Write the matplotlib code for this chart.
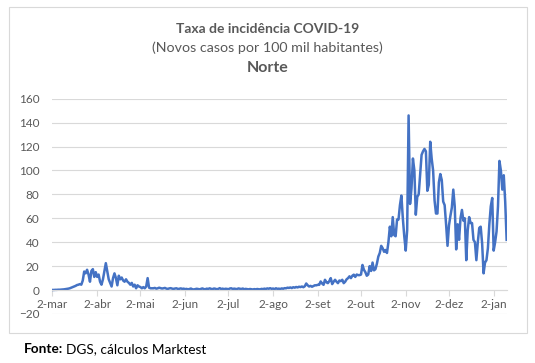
import matplotlib
matplotlib.use("Agg")
import matplotlib.pyplot as plt
from matplotlib.patches import Rectangle
import numpy as np
import pandas as pd

# Daily incidence (new cases per 100k inhabitants), Norte region
mar = [0.1, 0.1, 0.2, 0.2, 0.3, 0.3, 0.4, 0.5, 0.6, 0.8, 1.0, 1.2, 1.5, 2.0, 2.5,
       3.0, 3.5, 4.2, 4.5, 5.0, 4.5, 8, 15.5, 14, 17, 13, 7, 16, 17.5, 11]
abr = [15, 11, 13, 7, 4.5, 9, 16, 22.5, 16, 9, 6, 3, 10, 14, 10, 4, 12, 9, 10.5, 8,
       7, 9, 7, 6, 4.5, 6, 3, 4.5, 1.5, 4]
mai = [3, 2.5, 1.5, 2.5, 1.5, 3, 10, 2, 1.5, 1.5, 1.5, 1.8, 1.2, 1.5, 2.0, 1.6, 1.3,
       1.5, 1.8, 1.2, 1.0, 1.4, 1.6, 1.2, 1.0, 1.3, 1.5, 0.9, 1.1, 1.4, 1.0]
jun = [1.2, 0.8, 1.0, 0.6, 0.9, 1.3, 0.7, 0.5, 0.8, 1.1, 0.9, 0.6, 1.0, 1.4, 0.8,
       0.7, 1.2, 0.9, 1.5, 1.0, 0.8, 1.3, 1.1, 0.7, 1.0, 1.6, 0.9, 1.2, 0.8, 1.1]
jul = [1.0, 0.7, 1.3, 1.5, 0.9, 1.2, 1.0, 0.8, 1.4, 1.1, 0.9, 1.3, 0.7, 1.0, 0.8,
       0.6, 0.9, 0.7, 0.5, 0.8, 0.6, 0.9, 0.7, 0.6, 1.0, 0.8, 1.2, 0.9, 1.4, 1.1, 1.6]
ago = [1.0, 1.3, 0.8, 1.5, 1.0, 1.2, 0.9, 1.4, 1.1, 1.6, 1.5, 2.0, 1.8, 2.2, 1.7,
       2.4, 2.0, 2.6, 2.2, 2.8, 2.5, 3.0, 2.4, 3.2, 5.5, 4.0, 3.0, 3.5, 2.8, 3.4, 4.0]
set_ = [4.0, 4.4, 4.4, 7.2, 5.5, 4.4, 8.6, 6.5, 5.8, 7.5, 10, 5, 7, 8.6, 7, 5.8, 8,
        7.5, 8.6, 5.8, 7, 9, 10, 11.5, 10, 12, 12.9, 11, 13, 12.5]
out = [12.5, 13, 21, 17, 15, 12, 13, 20, 16, 23, 16.5, 17.5, 22, 28, 31, 37, 35, 32,
       33.5, 31, 40, 53, 45, 61, 46, 45, 59, 59, 71, 79, 60]
nov = [45, 33, 50, 146, 72, 85, 110, 100, 63, 78, 80, 97, 113, 116, 118, 116, 83, 88,
       124, 110, 100, 75, 64, 64, 90, 97, 92, 74, 71, 55]
dez = [37, 54, 62, 69, 84, 70, 34, 55, 42, 60, 67, 58, 60, 25, 50, 61, 56, 56, 42, 40,
       25, 40, 52, 53, 39, 14, 23, 25, 35, 55, 70]
jan = [77, 33, 40, 49, 70, 108, 100, 84, 96, 74, 42]

month_names = ["mar", "abr", "mai", "jun", "jul", "ago", "set", "out", "nov", "dez", "jan"]
y_ticks = [-20, 0, 20, 40, 60, 80, 100, 120, 140, 160]

values = np.concatenate([mar, abr, mai, jun, jul, ago, set_, out, nov, dez, jan])
dates = pd.date_range("2020-03-02", periods=len(values), freq="D")
tick_dates = pd.date_range("2020-03-02", periods=len(month_names), freq=pd.DateOffset(months=1))
tick_labels = [f"{d.day}-{m}" for d, m in zip(tick_dates, month_names)]

FONT = ["Lato", "DejaVu Sans"]
plt.rcParams["font.family"] = FONT
GRAY = "#595959"
GRID = "#d9d9d9"

W, H = 535, 363
fig = plt.figure(figsize=(W / 100, H / 100), dpi=100)
fig.patch.set_facecolor("white")

ax = fig.add_axes([52 / W, 1 - 314 / H, (507 - 52) / W, (314 - 98.7) / H])
ax.plot(dates, values, color="#4472C4", lw=1.8, solid_joinstyle="round")

ax.set_ylim(-20, 160)
ax.set_yticks(y_ticks)
ax.yaxis.grid(True, color=GRID, lw=0.8)
ax.set_axisbelow(True)
ax.tick_params(axis="y", length=0, pad=9, labelsize=8.5, labelcolor=GRAY)

ax.set_xlim(dates[0] - pd.Timedelta(hours=8), dates[-1] + pd.Timedelta(hours=6))
ax.set_xticks(tick_dates)
ax.set_xticklabels(tick_labels)
ax.tick_params(axis="x", length=4, width=0.8, color=GRID, pad=2.5,
               labelsize=8.5, labelcolor=GRAY, direction="out")

for s in ["top", "right", "left"]:
    ax.spines[s].set_visible(False)
ax.spines["bottom"].set_position(("data", 0))
ax.spines["bottom"].set_color(GRID)
ax.spines["bottom"].set_linewidth(0.8)
ax.set_facecolor("none")

# chart border
fig.patches.append(Rectangle((9 / W, 1 - 333 / H), (527 - 9) / W, (333 - 7) / H,
                             transform=fig.transFigure, fill=False,
                             edgecolor=GRID, lw=0.8))

fig.text(0.5, 1 - 29 / H, "Taxa de incidência COVID-19", ha="center", va="center",
         fontsize=10, fontweight="bold", color=GRAY)
fig.text(0.5, 1 - 48 / H, "(Novos casos por 100 mil habitantes)", ha="center",
         va="center", fontsize=10.3, color=GRAY)
fig.text(0.5, 1 - 68 / H, "Norte", ha="center", va="center", fontsize=11.5,
         fontweight="bold", color=GRAY)

t1 = fig.text(24 / W, 1 - 349 / H, "Fonte:", ha="left", va="center", fontsize=9.8,
              fontweight="bold", color="black")
fig.canvas.draw()
bb = t1.get_window_extent(renderer=fig.canvas.get_renderer())
fig.text((bb.x1 + 3) / W, 1 - 349 / H, "DGS, cálculos Marktest", ha="left",
         va="center", fontsize=9.8, color="black")

fig.savefig("out.png", dpi=100, facecolor="white")
